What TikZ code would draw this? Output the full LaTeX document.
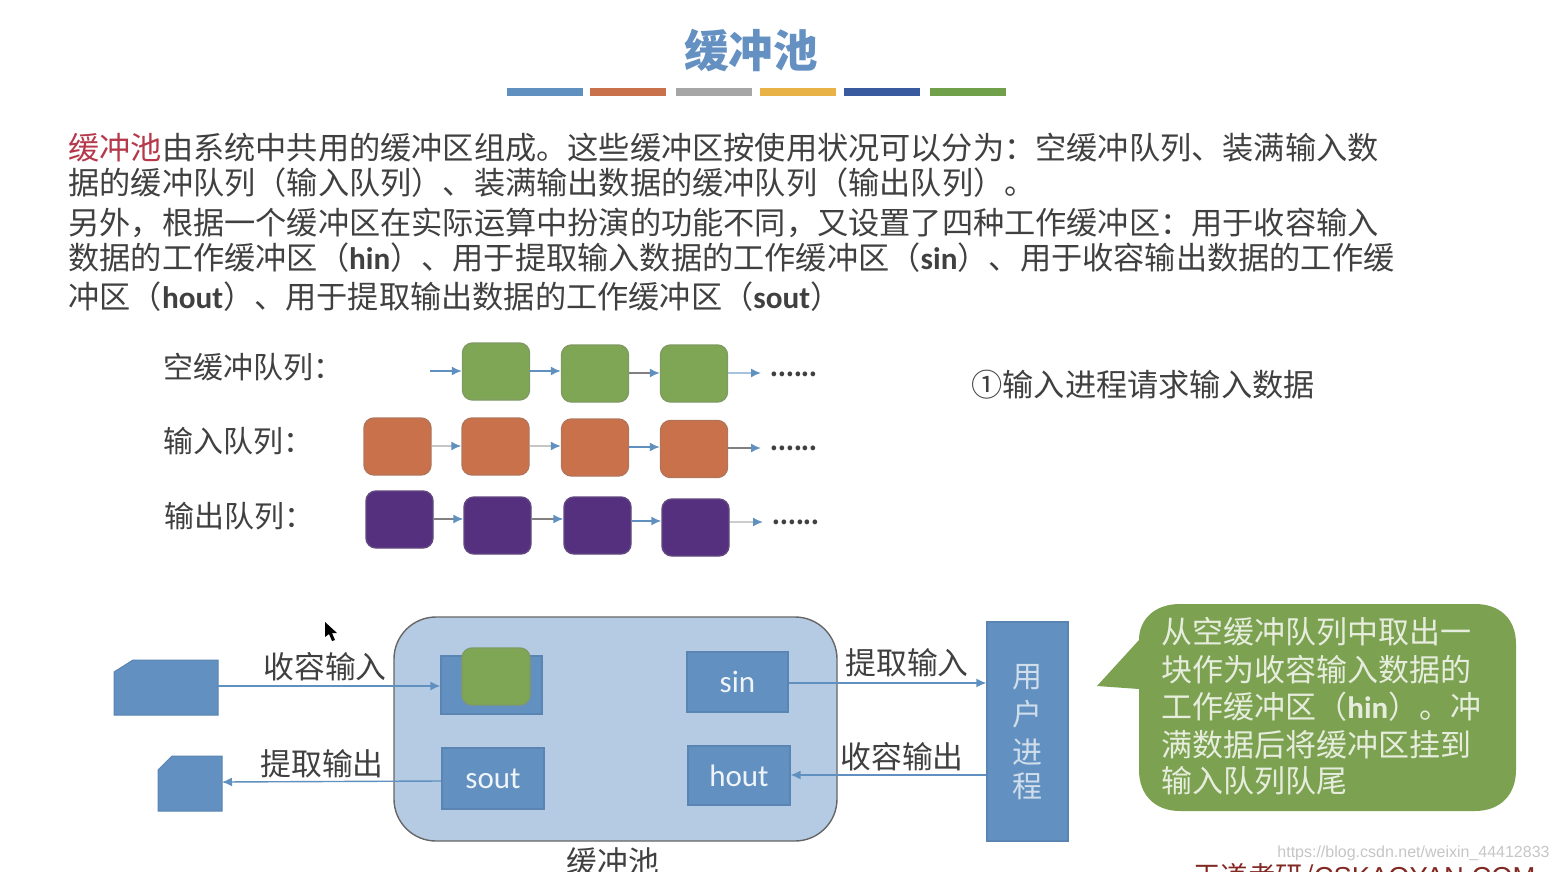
\documentclass[tikz,border=0pt]{standalone}
\usepackage{fontspec}
\setmainfont{Noto Sans CJK SC}
\newfontfamily\lat{Carlito}
\newfontfamily\arl{Liberation Sans}
\usetikzlibrary{arrows.meta}
\definecolor{txt}{HTML}{404040}
\definecolor{ttl}{HTML}{6490C2}
\definecolor{bluefill}{HTML}{6290C0}
\definecolor{poolfill}{HTML}{B5CBE3}
\definecolor{gre}{HTML}{7FA655}
\definecolor{ora}{HTML}{C9714A}
\definecolor{pur}{HTML}{54307F}
\definecolor{arrowblue}{HTML}{5F90BF}
\definecolor{callfill}{HTML}{7BA151}
\definecolor{calltext}{HTML}{E6EDDC}
\newcommand{\fs}[1]{\fontsize{#1}{#1}\selectfont}
\newcommand{\qlink}[4]{\coordinate (tmpy) at (0,#3);\draw[qarrow,draw=#4] (#1.east |- tmpy) -- (#2.west |- tmpy);}
\tikzset{
  x=0.5pt,y=-0.5pt,
  para/.style={anchor=west,inner sep=0pt,text=txt,font=\fs{15.6}},
  lab/.style={inner sep=0pt,text=txt,font=\fs{15.4}},
  qbox/.style={draw=#1!70!gray,fill=#1,rounded corners=5pt,minimum width=33.5pt,minimum height=28.5pt,inner sep=0pt,line width=.7pt},
  bbox/.style={draw=bluefill!92!black,fill=bluefill,inner sep=0pt,line width=.6pt,text=white!90!bluefill,font=\lat\fs{15.5}},
  qarrow/.style={line width=.8pt,-{Latex[length=5pt,width=4.5pt,fill=arrowblue,color=arrowblue]}},
  flow/.style={draw=arrowblue,line width=.7pt,-{Latex[length=5pt,width=4.5pt,fill=arrowblue,color=arrowblue]}},
  dots/.style={inner sep=0pt,font=\bfseries\fs{11},text=txt},
  bar/.style={inner sep=0pt,minimum height=4pt,minimum width=38pt}
}
\begin{document}
\begin{tikzpicture}
\useasboundingbox[fill=white] (0,0) rectangle (1558,872);
% title
\node[inner sep=0pt,text=ttl,font=\bfseries\fs{22.3}] (title) at (751,50) {缓冲池};
\node[bar,fill=arrowblue] (b1) at (544.5,92) {};
\node[bar,fill=ora] (b2) at (628,92) {};
\node[bar,fill=gray!70] (b3) at (713.5,92) {};
\node[bar,fill={rgb,255:red,233;green,178;blue,70}] (b4) at (798,92) {};
\node[bar,fill={rgb,255:red,58;green,90;blue,160}] (b5) at (881.5,92) {};
\node[bar,fill={rgb,255:red,112;green,160;blue,74}] (b6) at (967.5,92) {};
% paragraphs
\node[para] (p1) at (68,148) {\textcolor[HTML]{B5394B}{缓冲池}由系统中共用的缓冲区组成。这些缓冲区按使用状况可以分为：空缓冲队列、装满输入数};
\node[para] (p2) at (68,183) {据的缓冲队列（输入队列）、装满输出数据的缓冲队列（输出队列）。};
\node[para] (p3) at (68,223) {另外，根据一个缓冲区在实际运算中扮演的功能不同，又设置了四种工作缓冲区：用于收容输入};
\node[para] (p4) at (68,258) {数据的工作缓冲区（{\lat\bfseries hin}）、用于提取输入数据的工作缓冲区（{\lat\bfseries sin}）、用于收容输出数据的工作缓};
\node[para] (p5) at (68,297) {冲区（{\lat\bfseries hout}）、用于提取输出数据的工作缓冲区（{\lat\bfseries sout}）};
% queue labels
\node[para,font=\fs{15}] (l1) at (163,367) {空缓冲队列：};
\node[para,font=\fs{15}] (l2) at (163,441) {输入队列：};
\node[para,font=\fs{15}] (l3) at (164,516) {输出队列：};
\node[para] (step1) at (971,385) {①输入进程请求输入数据};
% row 1
\coordinate (s1) at (430,371);
\node[qbox=gre] (g1) at (496,371.5) {};
\node[qbox=gre] (g2) at (595,373.5) {};
\node[qbox=gre] (g3) at (694,373.5) {};
\coordinate (e1) at (761,373);
\node[dots] (d1) at (794,374) {......};
\draw[qarrow,draw=arrowblue] (s1) -- (g1.west |- s1);
\qlink{g1}{g2}{371}{arrowblue}
\qlink{g2}{g3}{373}{gray}
\qlink{g3}{e1}{373}{arrowblue!55}
% row 2
\node[qbox=ora] (o1) at (397.5,446.5) {};
\node[qbox=ora] (o2) at (495.5,446.5) {};
\node[qbox=ora] (o3) at (595,447.5) {};
\node[qbox=ora] (o4) at (694,449) {};
\coordinate (e2) at (761,448);
\node[dots] (d2) at (794,448) {......};
\qlink{o1}{o2}{446}{gray!45}
\qlink{o2}{o3}{446}{gray!45}
\qlink{o3}{o4}{447}{arrowblue}
\qlink{o4}{e2}{448}{gray}
% row 3
\node[qbox=pur] (u1) at (399.5,519.5) {};
\node[qbox=pur] (u2) at (497.5,525.5) {};
\node[qbox=pur] (u3) at (597.5,525.5) {};
\node[qbox=pur] (u4) at (695.5,527.5) {};
\coordinate (e3) at (763,522);
\node[dots] (d3) at (796,522) {......};
\qlink{u1}{u2}{519}{gray}
\qlink{u2}{u3}{519}{gray}
\qlink{u3}{u4}{521}{arrowblue}
\qlink{u4}{e3}{522}{gray!40}
% pool
\node[draw=gray!80!black,fill=poolfill,rounded corners=21pt,minimum width=221.5pt,minimum height=112pt,inner sep=0pt,line width=.7pt] (pool) at (615.5,729) {};
\node[lab] (poollab) at (613,862) {缓冲池};
% left cards
\draw[draw=bluefill!92!black,fill=bluefill,line width=.5pt] (114,672) -- (133,660) -- (218,660) -- (218,715) -- (114,715) -- cycle;
\coordinate (card1) at (218,686);
\draw[draw=bluefill!92!black,fill=bluefill,line width=.5pt] (158,770) -- (172,756) -- (222,756) -- (222,811) -- (158,811) -- cycle;
\coordinate (card2) at (222,782);
% buffers
\node[bbox,minimum width=50.5pt,minimum height=29pt] (hin) at (491.5,685) {};
\node[qbox=gre,minimum width=34pt] (hing) at (496,676.5) {};
\node[bbox,minimum width=50.5pt,minimum height=30pt] (sin) at (737.5,682) {sin};
\node[bbox,minimum width=51pt,minimum height=30.5pt] (sout) at (493,778.5) {sout};
\node[bbox,minimum width=51pt,minimum height=29.5pt] (hout) at (739,775.5) {hout};
% user
\node[bbox,minimum width=40.5pt,minimum height=109.5pt] (user) at (1027.5,731.5) {};
\node[inner sep=0pt,text=white!70!bluefill,font=\fs{15}] (u1t) at (1027,677) {用};
\node[inner sep=0pt,text=white!70!bluefill,font=\fs{15}] (u2t) at (1027,714) {户};
\node[inner sep=0pt,text=white!70!bluefill,font=\fs{15}] (u3t) at (1027,752) {进};
\node[inner sep=0pt,text=white!70!bluefill,font=\fs{15}] (u4t) at (1027,786) {程};
% flows
\coordinate (fy1) at (0,686);
\draw[flow] (card1) -- (hin.west |- fy1);
\coordinate (fy2) at (0,781);
\draw[flow] (sout.west |- fy2) -- (card2);
\coordinate (fy3) at (0,683);
\draw[flow] (sin.east |- fy3) -- (user.west |- fy3);
\coordinate (fy4) at (0,775);
\draw[flow] (user.west |- fy4) -- (hout.east |- fy4);
\node[lab] (f1) at (325,667) {收容输入};
\node[lab] (f2) at (322,764) {提取输出};
\node[lab] (f3) at (907,663) {提取输入};
\node[lab] (f4) at (902,757) {收容输出};
% callout
\fill[callfill] (1139,640) -- (1097,686) -- (1139,689) -- (1139,770)
  .. controls (1139,795) and (1155,811) .. (1180,811) -- (1475,811)
  .. controls (1500,811) and (1516,795) .. (1516,770) -- (1516,644)
  .. controls (1516,619) and (1500,604) .. (1475,604) -- (1180,604)
  .. controls (1155,604) and (1139,619) .. (1139,640) -- cycle;
\node[para,text=calltext,font=\fs{15.5}] (c1) at (1161,632) {从空缓冲队列中取出一};
\node[para,text=calltext,font=\fs{15.5}] (c2) at (1161,670) {块作为收容输入数据的};
\node[para,text=calltext,font=\fs{15.5}] (c3) at (1161,707) {工作缓冲区（{\lat\bfseries hin}）。冲};
\node[para,text=calltext,font=\fs{15.5}] (c4) at (1161,745) {满数据后将缓冲区挂到};
\node[para,text=calltext,font=\fs{15.5}] (c5) at (1161,781) {输入队列队尾};
% bottom marks
\node[anchor=west,inner sep=0pt,text=gray!45,font=\arl\fs{8}] (wm) at (1277,853) {https://blog.csdn.net/weixin\_44412833};
\node[anchor=west,inner sep=0pt,text={rgb,255:red,130;green,40;blue,35},font=\fs{13.7}] (brand) at (1193,877) {王道考研/{\arl CSKAOYAN.COM}};
% cursor
\fill[black] (325,622) -- (325,637) -- (329,634) -- (332,641) -- (335,640) -- (332,633) -- (337,633) -- cycle;
\end{tikzpicture}
\end{document}
